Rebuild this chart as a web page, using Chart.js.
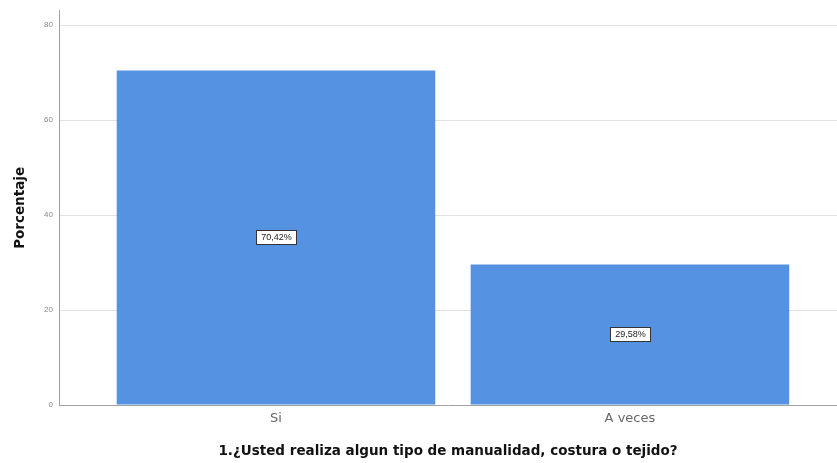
<!DOCTYPE html>
<html>
<head>
<meta charset="utf-8">
<script src="https://cdn.jsdelivr.net/npm/chart.js@4"></script>
<style>
html,body{margin:0;padding:0;background:#fff;}
#wrap{width:837px;height:463px;}
</style>
</head>
<body>
<div id="wrap"><canvas id="c"></canvas></div>
<script>
const categories = ['Si', 'A veces'];
const percentages = [70.42, 29.58];
const valueLabels = ['70,42%', '29,58%'];
const yTicks = [0, 20, 40, 60, 80];
const xTitle = '1.¿Usted realiza algun tipo de manualidad, costura o tejido?';
const yTitle = 'Porcentaje';

const labelPlugin = {
  id: 'boxLabels',
  afterDatasetsDraw(chart) {
    const ctx = chart.ctx;
    const meta = chart.getDatasetMeta(0);
    ctx.save();
    ctx.font = '9px "Liberation Sans", Arial, sans-serif';
    ctx.textAlign = 'center';
    ctx.textBaseline = 'middle';
    meta.data.forEach((bar, i) => {
      const cx = bar.x;
      const cy = (bar.y + bar.base) / 2 - 1;
      const t = valueLabels[i];
      const w = Math.round(ctx.measureText(t).width + 9);
      const h = 14;
      const x0 = Math.round(cx - w / 2), y0 = Math.round(cy - h / 2);
      ctx.fillStyle = '#ffffff';
      ctx.fillRect(x0, y0, w, h);
      ctx.strokeStyle = '#333333';
      ctx.lineWidth = 1;
      ctx.strokeRect(x0 + 0.5, y0 + 0.5, w, h);
      ctx.fillStyle = '#222222';
      ctx.fillText(t, cx + 0.5, cy + 1);
    });
    ctx.restore();
  }
};

new Chart(document.getElementById('c'), {
  type: 'bar',
  data: {
    datasets: [{
      data: categories.map((c, i) => ({ x: i, y: percentages[i] })),
      backgroundColor: '#5592e2',
      borderWidth: 0,
      categoryPercentage: 1,
      barPercentage: 0.9
    }]
  },
  options: {
    responsive: true,
    maintainAspectRatio: false,
    animation: false,
    layout: { padding: { top: 8, right: 0, left: 0, bottom: 0 } },
    plugins: { legend: { display: false }, tooltip: { enabled: false } },
    scales: {
      x: {
        type: 'linear',
        offset: false,
        min: -0.613,
        max: 1.585,
        afterBuildTicks(scale) { scale.ticks = categories.map((c, i) => ({ value: i })); },
        afterFit(scale) { scale.height = 58; },
        grid: { display: false, drawTicks: false, offset: false },
        border: { display: true, color: '#a0a0a0', width: 1 },
        ticks: {
          padding: 6,
          color: '#666666',
          font: { family: '"DejaVu Sans", sans-serif', size: 13 },
          callback: (v) => categories[v] !== undefined ? categories[v] : ''
        },
        title: {
          display: true,
          text: xTitle,
          color: '#111111',
          font: { family: '"DejaVu Sans", sans-serif', size: 13.5, weight: 'bold' },
          padding: { top: 0, bottom: 3 }
        }
      },
      y: {
        type: 'linear',
        min: 0,
        max: 83,
        afterBuildTicks(scale) { scale.ticks = yTicks.map(v => ({ value: v })); },
        afterFit(scale) { scale.width = 59; },
        grid: { color: '#e2e2e2', lineWidth: 1, drawTicks: false },
        border: { display: true, color: '#a0a0a0', width: 1 },
        ticks: {
          padding: 6,
          color: '#888888',
          font: { family: '"Liberation Sans", Arial, sans-serif', size: 8 }
        },
        title: {
          display: true,
          text: yTitle,
          color: '#111111',
          font: { family: '"DejaVu Sans", sans-serif', size: 13.5, weight: 'bold' },
          padding: { top: 12, bottom: 0 }
        }
      }
    }
  },
  plugins: [labelPlugin]
});
</script>
</body>
</html>
